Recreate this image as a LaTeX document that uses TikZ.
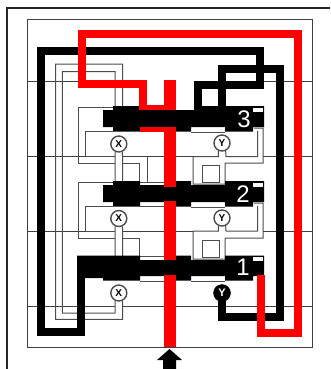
\documentclass[tikz,border=0pt]{standalone}
\usepackage{fontspec}
\setmainfont{Liberation Sans}
\begin{document}
\begin{tikzpicture}[x=1pt,y=-1pt,
        frameline/.style={draw=black!75,line width=1pt},
        thinline/.style={draw=black!70,line width=1pt},
        blackpipe/.style={draw=black,line width=8pt},
        redpipe/.style={draw=red,line width=8pt},
        redcore/.style={draw=red,line width=11.5pt},
        blockfill/.style={fill=black},
        notch/.style={fill=white},
        valve/.style={draw=black!70,fill=white,circle,line width=1.4pt,inner sep=0pt,minimum size=16pt,font=\bfseries\fontsize{10}{10}\selectfont},
        fullvalve/.style={draw=black,fill=black,text=white,circle,inner sep=0pt,minimum size=17pt,font=\bfseries\fontsize{11}{11}\selectfont},
        digit/.style={text=white,inner sep=0pt,font=\fontsize{24}{24}\selectfont}]
    \useasboundingbox (0,0) rectangle (330,369);
    \draw[draw=black!85,line width=1.5pt] (7,369) -- (7,8) -- (330,8);
    \draw[frameline] (27.5,20) rectangle (312.5,347);
    \draw[frameline] (27.5,81.5) -- (78,81.5);
    \draw[frameline] (264,81.5) -- (312.5,81.5);
    \draw[frameline] (27.5,156) -- (85,156);
    \draw[frameline] (263,156) -- (312.5,156);
    \draw[frameline] (27.5,231) -- (85,231);
    \draw[frameline] (263,231) -- (312.5,231);
    \draw[frameline] (27.5,306.5) -- (115,306.5);
    \draw[frameline] (122.7,306.5) -- (312.5,306.5);
    \draw[frameline] (122.7,156) -- (164,156);
    \draw[frameline] (176,156) -- (193,156);
    \draw[frameline] (122.7,231) -- (164,231);
    \draw[frameline] (176,231) -- (193,231);
    \node[valve] (valvex3) at (118.8,144) {X};
    \node[valve] (valvey3) at (222,143) {Y};
    \node[valve] (valvex2) at (118.8,218.5) {X};
    \node[valve] (valvey2) at (222,218) {Y};
    \node[valve] (valvex1) at (118.8,293) {X};
    \coordinate (valvey1base) at (222,293);
    \draw[thinline] (122.7,107) -- (122.7,64) -- (55.7,64) -- (55.7,319.3) -- (122.7,319.3) -- (valvex1.295);
    \draw[thinline] (115,107) -- (115,71.7) -- (62.3,71.7) -- (62.3,313) -- (115,313) -- (valvex1.245);
    \draw[thinline] (113,131) -- (85,131) -- (85,156) -- (115,156);
    \draw[thinline] (113,107) -- (78,107) -- (78,163) -- (115,163);
    \draw[thinline] (valvex3.245) -- (115,182);
    \draw[thinline] (valvex3.295) -- (122.7,182);
    \draw[thinline] (122.7,163) -- (139.5,163) -- (139.5,182) -- (164,182);
    \draw[thinline] (147,156) -- (147,182);
    \draw[thinline] (113,206) -- (85,206) -- (85,231) -- (115,231);
    \draw[thinline] (113,182) -- (78,182) -- (78,238) -- (115,238);
    \draw[thinline] (valvex2.245) -- (115,256);
    \draw[thinline] (valvex2.295) -- (122.7,256);
    \draw[thinline] (122.7,238) -- (139.5,238) -- (139.5,256) -- (164,256);
    \draw[thinline] (140,206.5) -- (164,206.5);
    \draw[thinline] (140,281) -- (164,281);
    \draw[thinline] (valvey3.245) -- (218.5,156.5) -- (193,156.5) -- (193,184) -- (225,184) -- (225,163) -- (263,163) -- (263,128) -- (254,128);
    \draw[thinline] (valvey3.295) -- (226,156.5) -- (257.5,156.5) -- (257.5,131);
    \draw[thinline] (202,165) rectangle (219,182);
    \draw[thinline] (191,132) -- (225,132);
    \draw[thinline] (valvey2.245) -- (218.5,231) -- (193,231) -- (193,259) -- (225,259) -- (225,238) -- (263,238) -- (263,203) -- (254,203);
    \draw[thinline] (valvey2.295) -- (226,231) -- (257.5,231) -- (257.5,206);
    \draw[thinline] (202,240) rectangle (219,257);
    \draw[thinline] (191,207) -- (225,207);
    \draw[thinline] (191,281.5) -- (225,281.5);
    \fill[blockfill] (103,110) -- (113,110) -- (113,106) -- (140,106) -- (140,110) -- (194,110) -- (194,106) -- (264,106)
        -- (264,127) -- (253,127) -- (253,131.5) -- (225,131.5) -- (225,127) -- (191,127) -- (191,131.5)
        -- (113,131.5) -- (113,127) -- (103,127) -- cycle;
    \fill[blockfill] (103,185) -- (113,185) -- (113,181) -- (140,181) -- (140,185) -- (176,185) -- (176,181) -- (191,181) -- (191,185)
        -- (225,185) -- (225,181) -- (264,181) -- (264,202) -- (253,202) -- (253,206.5) -- (225,206.5) -- (225,202)
        -- (191,202) -- (191,206.5) -- (176,206.5) -- (176,202) -- (140,202) -- (140,206.5) -- (113,206.5) -- (113,202) -- (103,202) -- cycle;
    \fill[blockfill] (77,255.5) -- (140,255.5) -- (140,260) -- (176,260) -- (176,255.5) -- (191,255.5) -- (191,260)
        -- (225,260) -- (225,255.5) -- (264,255.5) -- (264,276) -- (253,276) -- (253,280.5) -- (225,280.5) -- (225,276)
        -- (191,276) -- (191,280.5) -- (176,280.5) -- (176,276) -- (140,276) -- (140,280.5) -- (103,280.5) -- (103,278) -- (77,278) -- cycle;
    \fill[notch] (253,107.5) rectangle (263,111.5);
    \fill[notch] (253,182.5) rectangle (263,186.5);
    \fill[notch] (253,257) rectangle (263,261);
    \draw[blackpipe] (81,262) -- (81,332) -- (41,332) -- (41,51) -- (260,51) -- (260,84.5) -- (198,84.5) -- (198,107);
    \draw[blackpipe] (222,107) -- (222,69) -- (280,69) -- (280,316.5) -- (222,316.5) -- (valvey1base);
    \draw[redpipe] (261,275) -- (261,333) -- (298,333) -- (298,34.5) -- (82,34.5) -- (82,84) -- (143,84) -- (143,110);
    \fill[red] (139,105) rectangle (176,110);
    \fill[red] (140,127) rectangle (176,132);
    \draw[redcore] (170,80) -- (170,110);
    \draw[redcore] (170,127) -- (170,347);
    \fill[blockfill] (160,110) rectangle (180,127);
    \fill[blockfill] (160,187) rectangle (180,201);
    \fill[blockfill] (160,260) rectangle (180,275);
    \node[fullvalve] (valvey1) at (valvey1base) {Y};
    \node[digit] (digit3) at (244,119) {3};
    \node[digit] (digit2) at (243,194.5) {2};
    \node[digit] (digit1) at (243,267) {1};
    \fill[black] (169.5,349) -- (182,360) -- (176,360) -- (176,369) -- (163,369) -- (163,360) -- (157,360) -- cycle;
\end{tikzpicture}
\end{document}
